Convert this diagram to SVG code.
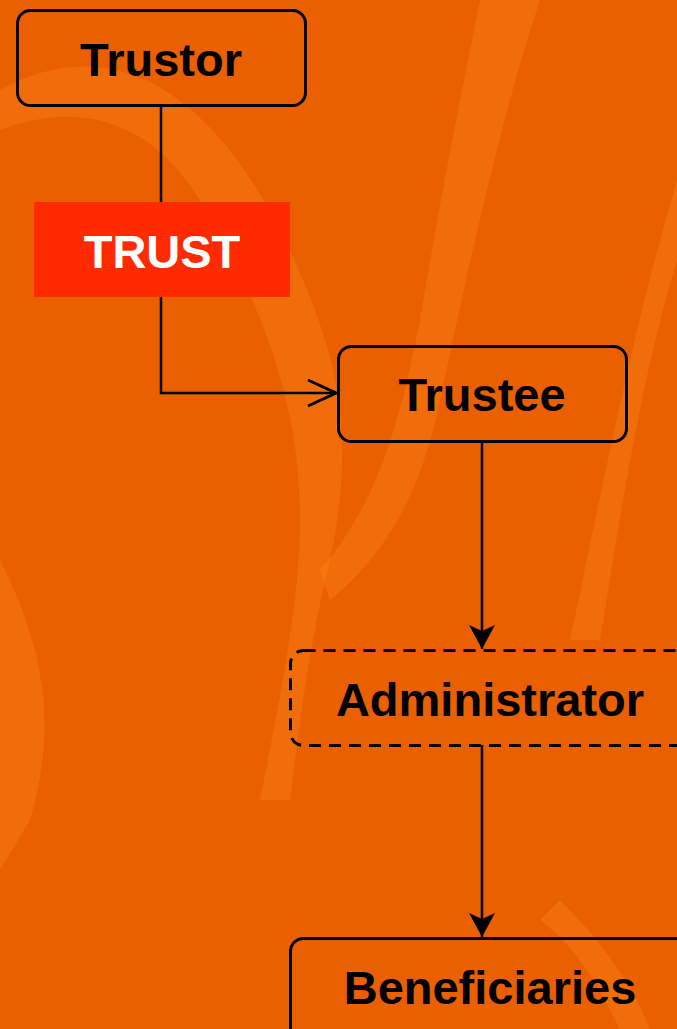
<svg xmlns="http://www.w3.org/2000/svg" width="677" height="1029" viewBox="0 0 677 1029">
<defs>
<style>
.box{fill:none;stroke:#000;stroke-width:3}
.dash{stroke-dasharray:12 8}
.lbl{font-family:"Liberation Sans",Arial,sans-serif;font-weight:bold;font-size:47px;text-anchor:middle;fill:#000}
.wire{fill:none;stroke:#000;stroke-width:2.5}
.streak{fill:#ff8a1a;opacity:0.35}
</style>
<marker id="fill-arrow" viewBox="0 0 24 26" refX="24" refY="13" markerWidth="24" markerHeight="26" markerUnits="userSpaceOnUse" orient="auto">
<path d="M0,0 L24,13 L0,26 L6,13 Z" fill="#000"/>
</marker>
<marker id="open-arrow" viewBox="0 0 32 30" refX="30" refY="15" markerWidth="32" markerHeight="30" markerUnits="userSpaceOnUse" orient="auto">
<path d="M2,2 L30,15 L2,28" fill="none" stroke="#000" stroke-width="3"/>
</marker>
</defs>
<rect width="677" height="1029" fill="#ea5f00"/>
<g id="background">
<path class="streak" d="M0,90 C90,40 200,60 290,250 C330,340 360,420 330,560 C310,640 300,720 290,800 L260,800 C280,700 300,600 300,520 C300,400 260,300 200,200 C150,120 80,100 0,130 Z"/>
<path class="streak" d="M480,0 L540,0 C500,120 470,260 440,400 C420,500 380,560 330,600 L320,570 C380,500 400,420 420,320 C440,200 460,100 480,0 Z"/>
<path class="streak" d="M677,180 L677,260 C640,380 620,520 600,640 L570,640 C600,500 630,340 677,180 Z"/>
<path class="streak" d="M0,560 C40,640 60,720 30,820 L0,870 Z" opacity="0.25"/>
<path class="streak" d="M560,900 C600,940 630,980 650,1029 L620,1029 C600,990 580,950 540,920 Z"/>
</g>
<g id="connectors">
<path class="wire" d="M161,105 V202"/>
<path class="wire" d="M161,297 V393 H336" marker-end="url(#open-arrow)"/>
<path class="wire" d="M482,441 V649" marker-end="url(#fill-arrow)"/>
<path class="wire" d="M482,745 V937" marker-end="url(#fill-arrow)"/>
</g>
<g id="trustor">
<rect class="box" x="17.5" y="10.5" width="288" height="95" rx="13"/>
<text class="lbl" x="161" y="76">Trustor</text>
</g>
<g id="trust">
<rect x="34" y="202" width="256" height="95" fill="#ff2a00"/>
<text class="lbl" x="162" y="268" style="fill:#fff">TRUST</text>
</g>
<g id="trustee">
<rect class="box" x="338.5" y="346.5" width="288" height="95" rx="13"/>
<text class="lbl" x="482" y="411">Trustee</text>
</g>
<g id="administrator">
<rect class="box dash" x="290.5" y="650.5" width="420" height="95" rx="13"/>
<text class="lbl" x="490" y="716">Administrator</text>
</g>
<g id="beneficiaries">
<rect class="box" x="290.5" y="938.5" width="420" height="120" rx="13"/>
<text class="lbl" x="490" y="1004">Beneficiaries</text>
</g>
</svg>
